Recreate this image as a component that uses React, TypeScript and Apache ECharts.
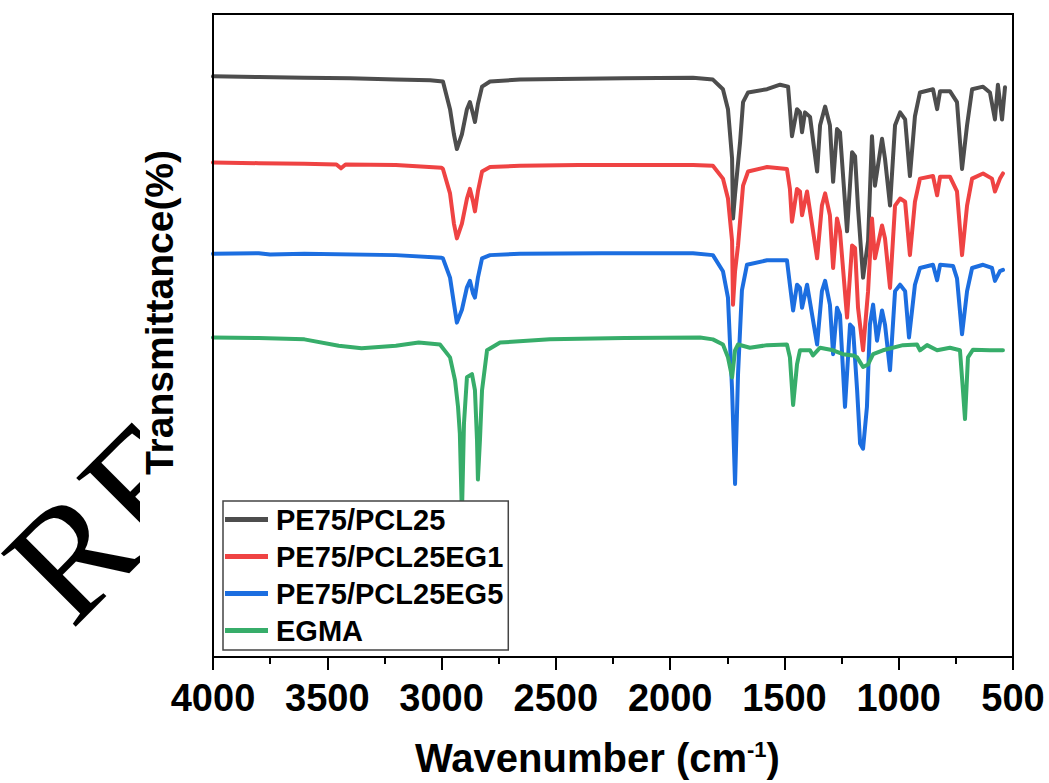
import React, { useEffect, useRef } from "react";
import * as echarts from "echarts";

const FONT = '"Liberation Sans", Arial, Helvetica, sans-serif';

const seriesNames = ["PE75/PCL25", "PE75/PCL25EG1", "PE75/PCL25EG5", "EGMA"];
const seriesColors = ["#4d4d4d", "#ef4343", "#1c6ee0", "#37ad6a"];
const xTicks = [4000, 3500, 3000, 2500, 2000, 1500, 1000, 500];

// [wavenumber (cm-1), transmittance (offset, a.u.)]
const pe75pcl25: [number, number][] = [
  [4000, 90.3], [3800, 90.2], [3600, 90.1], [3400, 90.0], [3200, 89.8], [3050, 89.7],
  [2994, 89.5], [2963, 85.2], [2946, 81.3], [2933, 79.0], [2911, 81.3], [2889, 85.2],
  [2876, 86.3], [2862, 84.4], [2854, 83.2], [2841, 86.0], [2823, 88.7], [2788, 89.5],
  [2657, 89.8], [2482, 89.9], [2200, 90.0], [1900, 90.1], [1813, 89.8], [1769, 88.3],
  [1747, 85.2], [1729, 77.5], [1725, 68.2], [1716, 72.0], [1694, 80.1], [1681, 86.3],
  [1659, 87.8], [1576, 88.3], [1519, 89.0], [1484, 88.7], [1476, 85.2], [1467, 81.0],
  [1445, 85.2], [1432, 84.7], [1423, 81.6], [1410, 84.7], [1388, 84.0], [1357, 75.5],
  [1344, 82.7], [1322, 85.6], [1301, 82.7], [1287, 73.9], [1270, 82.1], [1257, 81.6],
  [1226, 66.2], [1204, 78.5], [1191, 77.9], [1178, 69.8], [1156, 59.0], [1134, 64.7],
  [1117, 81.0], [1104, 73.3], [1073, 80.6], [1060, 77.5], [1038, 70.2], [1016, 82.7],
  [994, 84.7], [972, 83.6], [951, 74.8], [929, 84.1], [907, 87.8], [850, 88.3],
  [832, 85.2], [819, 88.0], [776, 88.0], [745, 86.3], [723, 75.9], [701, 82.7],
  [679, 88.3], [631, 88.7], [601, 87.8], [579, 83.6], [566, 89.0], [548, 83.6], [535, 88.6],
];

const pe75pcl25eg1: [number, number][] = [
  [4000, 76.9], [3800, 76.8], [3600, 76.7], [3460, 76.6], [3440, 76.0], [3420, 76.6],
  [3200, 76.5], [3000, 76.1], [2994, 75.9], [2963, 72.1], [2946, 67.4], [2933, 65.1],
  [2911, 67.4], [2889, 71.3], [2876, 72.8], [2862, 70.8], [2854, 69.3], [2841, 72.4],
  [2823, 75.5], [2788, 76.2], [2657, 76.4], [2400, 76.5], [2100, 76.5], [1900, 76.5],
  [1813, 76.4], [1769, 74.4], [1747, 71.3], [1729, 64.7], [1725, 54.8], [1716, 60.0],
  [1703, 64.0], [1681, 73.3], [1659, 75.5], [1576, 76.2], [1489, 75.9], [1476, 72.8],
  [1467, 67.7], [1445, 72.8], [1432, 72.4], [1423, 68.7], [1401, 72.4], [1357, 62.0],
  [1336, 70.2], [1322, 72.1], [1301, 68.7], [1287, 60.5], [1270, 68.2], [1257, 66.2],
  [1226, 52.8], [1204, 64.0], [1191, 63.6], [1178, 54.3], [1156, 47.7], [1134, 56.9],
  [1117, 68.2], [1104, 62.0], [1073, 67.1], [1060, 65.1], [1038, 57.4], [1016, 70.2],
  [994, 71.3], [972, 70.8], [951, 62.5], [929, 70.8], [907, 74.4], [850, 74.8],
  [832, 71.8], [819, 74.7], [776, 74.7], [745, 72.4], [723, 62.5], [701, 70.2],
  [679, 74.4], [631, 75.2], [592, 74.4], [579, 72.4], [557, 74.4], [544, 75.2],
];

const pe75pcl25eg5: [number, number][] = [
  [4000, 62.7], [3800, 62.8], [3750, 62.6], [3600, 62.7], [3200, 62.5], [3000, 62.1],
  [2994, 62.0], [2963, 59.0], [2946, 55.0], [2933, 52.0], [2911, 54.0], [2889, 57.5],
  [2876, 58.5], [2862, 56.5], [2854, 55.9], [2841, 59.0], [2823, 62.0], [2788, 62.5],
  [2657, 62.7], [2300, 62.8], [1900, 62.8], [1813, 62.5], [1769, 60.0], [1747, 55.9],
  [1729, 41.5], [1716, 26.9], [1703, 44.0], [1686, 57.0], [1664, 61.0], [1576, 61.7],
  [1489, 61.7], [1476, 57.9], [1462, 53.9], [1445, 57.9], [1432, 57.4], [1423, 54.3],
  [1401, 57.9], [1357, 48.6], [1336, 56.9], [1322, 58.5], [1301, 54.8], [1287, 47.1],
  [1270, 54.3], [1257, 53.2], [1235, 38.9], [1213, 51.7], [1200, 51.2], [1182, 41.5],
  [1169, 33.2], [1156, 32.4], [1139, 38.9], [1126, 51.7], [1112, 54.8], [1095, 49.2],
  [1073, 53.9], [1060, 51.7], [1038, 44.6], [1016, 56.9], [994, 57.9], [972, 56.9],
  [955, 49.7], [929, 57.9], [907, 60.5], [850, 61.0], [832, 58.6], [819, 61.0],
  [762, 60.8], [745, 58.9], [723, 50.2], [701, 56.9], [679, 60.5], [631, 61.0],
  [592, 60.5], [579, 58.5], [557, 60.0], [544, 60.2],
];

const egma: [number, number][] = [
  [4000, 49.7], [3800, 49.6], [3600, 49.4], [3450, 48.4], [3350, 48.0], [3200, 48.4],
  [3100, 48.9], [3007, 48.6], [2963, 46.6], [2941, 43.0], [2928, 38.9], [2920, 34.7],
  [2911, 22.0], [2902, 36.3], [2889, 43.5], [2867, 44.0], [2854, 41.5], [2845, 33.8],
  [2841, 27.6], [2832, 33.8], [2823, 41.5], [2801, 47.7], [2744, 48.9], [2526, 49.4],
  [2200, 49.6], [1869, 49.7], [1813, 49.4], [1769, 48.6], [1747, 46.6], [1729, 43.5],
  [1716, 47.7], [1703, 48.6], [1651, 48.1], [1576, 48.5], [1489, 48.6], [1476, 46.6],
  [1462, 39.2], [1445, 45.5], [1432, 47.7], [1388, 47.7], [1375, 46.9], [1344, 48.1],
  [1287, 47.7], [1244, 47.1], [1200, 46.9], [1182, 46.6], [1156, 45.1], [1134, 45.5],
  [1112, 47.1], [1069, 47.7], [981, 48.5], [920, 48.6], [907, 47.7], [876, 48.5],
  [832, 47.7], [776, 48.1], [732, 47.7], [719, 41.5], [710, 37.0], [697, 46.6],
  [675, 47.8], [601, 47.7], [544, 47.7],
];

const seriesData = [pe75pcl25, pe75pcl25eg1, pe75pcl25eg5, egma];

export default function App() {
  const ref = useRef<HTMLDivElement>(null);

  useEffect(() => {
    if (!ref.current) return;
    const chart = echarts.init(ref.current, null, { renderer: "svg" });
    chart.setOption({
      animation: false,
      backgroundColor: "#ffffff",
      graphic: [
        {
          type: "text",
          x: 90,
          y: 649,
          rotation: (45 * Math.PI) / 180,
          z: -20,
          silent: true,
          style: {
            text: "RE",
            fontSize: 160,
            fontFamily: '"Liberation Serif", "Times New Roman", serif',
            fill: "#000000",
            textAlign: "left",
            textVerticalAlign: "bottom",
          },
        },
        {
          type: "rect",
          z: -10,
          silent: true,
          shape: { x: 140, y: 0, width: 909, height: 783 },
          style: { fill: "#ffffff" },
        },
      ],
      grid: {
        left: 213,
        right: 36,
        top: 14,
        bottom: 121,
        show: true,
        borderColor: "#000000",
        borderWidth: 2,
        backgroundColor: "transparent",
      },
      legend: {
        orient: "vertical",
        left: 223,
        top: 501,
        padding: [4, 5, 5, 2],
        itemGap: 8,
        itemWidth: 43,
        itemHeight: 5,
        icon: "rect",
        backgroundColor: "#ffffff",
        borderColor: "#444444",
        borderWidth: 1.5,
        data: seriesNames,
        textStyle: {
          fontFamily: FONT,
          fontSize: 29,
          fontWeight: "bold",
          color: "#000000",
          padding: [0, 0, 0, 3],
        },
      },
      xAxis: {
        type: "value",
        min: 500,
        max: 4000,
        interval: 500,
        inverse: true,
        z: 10,
        axisLine: { show: true, onZero: false, lineStyle: { color: "#000", width: 2 } },
        axisTick: { show: true, inside: false, length: 13, lineStyle: { color: "#000", width: 2 } },
        minorTick: { show: true, splitNumber: 2, length: 7, lineStyle: { color: "#000", width: 2 } },
        splitLine: { show: false },
        axisLabel: {
          margin: 22,
          fontFamily: FONT,
          fontSize: 38,
          fontWeight: "bold",
          color: "#000",
          showMinLabel: true,
          showMaxLabel: true,
          formatter: (v: number) => (xTicks.includes(v) ? String(v) : ""),
        },
        name: "{a|Wavenumber (cm}{b|-1}{a|)}",
        nameLocation: "middle",
        nameGap: 81,
        nameTextStyle: {
          padding: [0, 31, 0, 0],
          rich: {
            a: { fontFamily: FONT, fontSize: 40, lineHeight: 40, fontWeight: "bold", color: "#000" },
            b: { fontFamily: FONT, fontSize: 22, lineHeight: 22, fontWeight: "bold", color: "#000", verticalAlign: "top" },
          },
        },
      },
      yAxis: {
        type: "value",
        min: 0,
        max: 100,
        z: 10,
        axisLine: { show: true, lineStyle: { color: "#000", width: 2 } },
        axisTick: { show: false },
        axisLabel: { show: false },
        splitLine: { show: false },
        name: "Transmittance(%)",
        nameLocation: "middle",
        nameGap: 34,
        nameRotate: 90,
        nameTextStyle: {
          fontFamily: FONT,
          fontSize: 39,
          fontWeight: "bold",
          color: "#000",
          padding: [0, 0, 0, 46],
        },
      },
      series: seriesData.map((d, i) => ({
        name: seriesNames[i],
        type: "line",
        data: d,
        showSymbol: false,
        symbol: "none",
        silent: true,
        color: seriesColors[i],
        lineStyle: { color: seriesColors[i], width: 4, join: "round", cap: "round" },
        emphasis: { disabled: true },
      })),
    });
    return () => chart.dispose();
  }, []);

  return (
    <div
      ref={ref}
      style={{ position: "fixed", left: 0, top: 0, width: 1049, height: 783, background: "#fff" }}
    />
  );
}
